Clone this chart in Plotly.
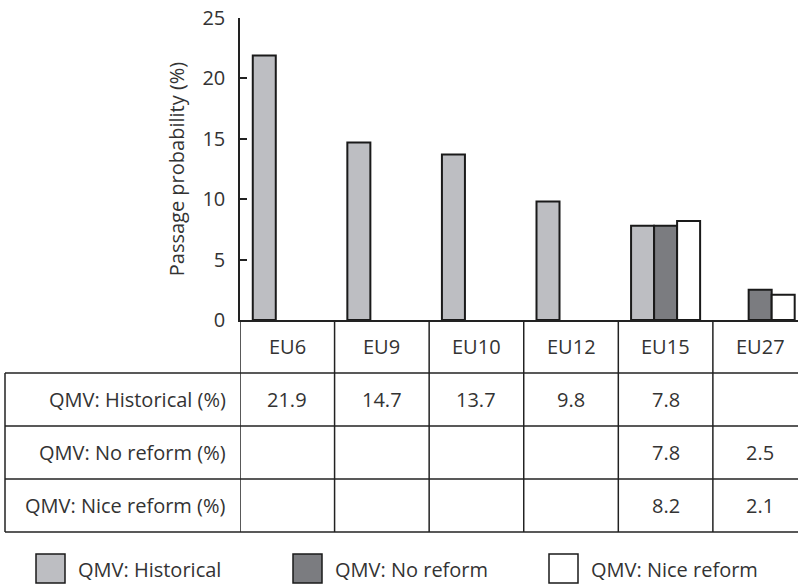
import plotly.graph_objects as go

categories = ["EU6", "EU9", "EU10", "EU12", "EU15", "EU27"]
series_names = ["QMV: Historical", "QMV: No reform", "QMV: Nice reform"]
historical = [21.9, 14.7, 13.7, 9.8, 7.8, None]
no_reform = [None, None, None, None, 7.8, 2.5]
nice_reform = [None, None, None, None, 8.2, 2.1]
y_ticks = [0, 5, 10, 15, 20, 25]

series_values = [historical, no_reform, nice_reform]
colors = ["#bdbec2", "#7b7c80", "#ffffff"]
FONT = "Open Sans"
TXT = "#333333"
LINE = "#222222"
FS = 20

W, H = 798, 584
L, R, T, B = 240, 0, 18, 264
pw = W - L - R
ph = H - T - B

def py(pix):
    return (T + ph - pix) / ph

def px(pix):
    return (pix - L) / pw

fig = go.Figure()
for name, vals, c in zip(series_names, series_values, colors):
    fig.add_trace(go.Bar(
        x=categories, y=vals, name=name,
        marker=dict(color=c, line=dict(color="#1a1a1a", width=2)),
        showlegend=False,
    ))

fig.update_layout(
    width=W, height=H,
    margin=dict(l=L, r=R, t=T, b=B, pad=0),
    paper_bgcolor="white", plot_bgcolor="white",
    barmode="group", bargap=0.27, bargroupgap=0,
    font=dict(family=FONT, color=TXT, size=FS),
    xaxis=dict(range=[-0.5, 5.4], showticklabels=False, ticks="",
               showline=True, linecolor=LINE, linewidth=1.5,
               showgrid=False, zeroline=False),
    yaxis=dict(range=[0, 25], tickvals=y_ticks, ticks="inside", ticklen=7,
               tickwidth=1.5, tickcolor=LINE, showline=True, linecolor=LINE,
               linewidth=1.5, showgrid=False, zeroline=False,
               tickfont=dict(size=FS, color=TXT), ticklabelstandoff=9,
               title=dict(text="Passage probability (%)", font=dict(size=FS, color=TXT),
                          standoff=12)),
)

shapes = []
annotations = []
line_style = dict(color=LINE, width=1.5)

row_top = 373
row_lines = [373, 426, 479, 532]
bottom = 532
left_edge = 5

for i in range(len(categories)):
    shapes.append(dict(type="line", xref="x", yref="paper",
                       x0=i - 0.5, x1=i - 0.5, y0=0, y1=py(bottom), line=line_style))
shapes.append(dict(type="line", xref="paper", yref="paper",
                   x0=px(left_edge), x1=px(left_edge), y0=py(row_top), y1=py(bottom),
                   line=line_style))
for r in row_lines:
    shapes.append(dict(type="line", xref="paper", yref="paper",
                       x0=px(left_edge), x1=1, y0=py(r), y1=py(r), line=line_style))

for c in categories:
    annotations.append(dict(x=c, y=py(347), xref="x", yref="paper", text=c,
                            showarrow=False, xanchor="center", yanchor="middle",
                            font=dict(size=FS, color=TXT)))

for ri, (name, vals) in enumerate(zip(series_names, series_values)):
    yc = py((row_lines[ri] + row_lines[ri + 1]) / 2)
    annotations.append(dict(x=px(228), y=yc, xref="paper", yref="paper",
                            text=f"{name} (%)", showarrow=False, xanchor="right",
                            yanchor="middle", font=dict(size=FS, color=TXT)))
    for c, v in zip(categories, vals):
        if v is not None:
            annotations.append(dict(x=c, y=yc, xref="x", yref="paper",
                                    text=f"{v:.1f}", showarrow=False,
                                    xanchor="center", yanchor="middle",
                                    font=dict(size=FS, color=TXT)))

leg_boxes = [36, 293, 549]
box_w = 29
box_top, box_bot = 554, 583
for name, c, bx in zip(series_names, colors, leg_boxes):
    shapes.append(dict(type="rect", xref="paper", yref="paper",
                       x0=px(bx), x1=px(bx + box_w), y0=py(box_bot), y1=py(box_top),
                       fillcolor=c, line=dict(color="#1a1a1a", width=1.5)))
    annotations.append(dict(x=px(bx + box_w + 11), y=py(569), xref="paper", yref="paper",
                            text=name, showarrow=False, xanchor="left", yanchor="middle",
                            font=dict(size=FS, color=TXT)))

fig.update_layout(shapes=shapes, annotations=annotations)
fig.write_html("out.html", config={"displayModeBar": False},
               post_script="document.body.style.margin='0px';")
